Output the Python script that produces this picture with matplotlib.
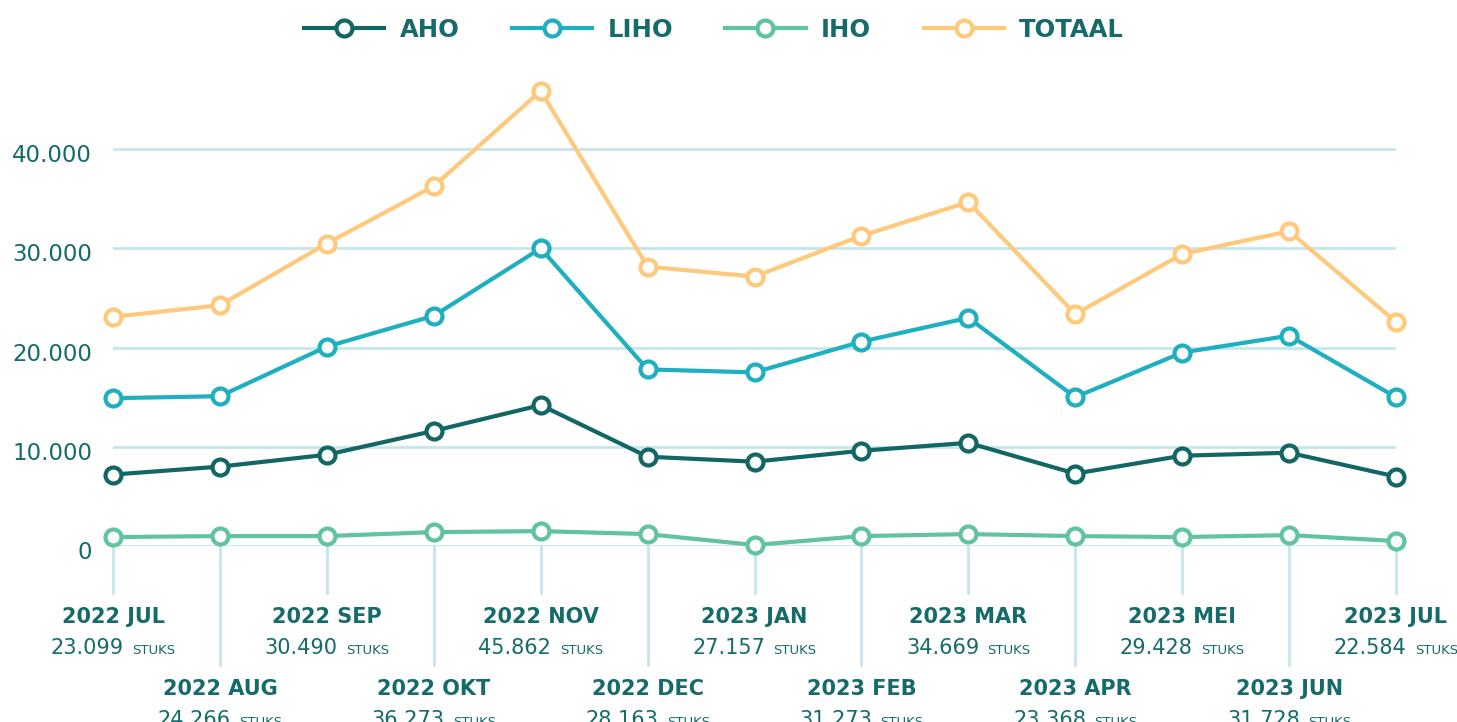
import matplotlib
matplotlib.use('Agg')
import matplotlib.pyplot as plt
import matplotlib.transforms as mtransforms
from matplotlib.offsetbox import TextArea, HPacker, AnnotationBbox

# data
months = ['2022 JUL', '2022 AUG', '2022 SEP', '2022 OKT', '2022 NOV', '2022 DEC',
          '2023 JAN', '2023 FEB', '2023 MAR', '2023 APR', '2023 MEI', '2023 JUN', '2023 JUL']
aho = [7200, 8000, 9200, 11600, 14200, 9000, 8500, 9600, 10400, 7300, 9100, 9400, 7000]
liho = [14900, 15100, 20100, 23200, 30000, 17800, 17500, 20600, 23000, 15000, 19500, 21200, 15000]
iho = [900, 1000, 1000, 1400, 1500, 1200, 100, 1000, 1200, 1000, 900, 1100, 500]
totaal = [23099, 24266, 30490, 36273, 45862, 28163, 27157, 31273, 34669, 23368, 29428, 31728, 22584]
yticks = [0, 10000, 20000, 30000, 40000]

TEXT = '#146b69'
GRID = '#c4e7ee'
colors = {'AHO': '#126764', 'LIHO': '#1eafc0', 'IHO': '#62c3a0', 'TOTAAL': '#ffc97c'}

W, H = 1457, 722
fig = plt.figure(figsize=(W / 100, H / 100), dpi=100)
ax = fig.add_axes([113 / W, 176 / H, (1396 - 113) / W, 476.2 / H])

x = list(range(len(months)))
series = [('AHO', aho), ('LIHO', liho), ('IHO', iho), ('TOTAAL', totaal)]
for name, vals in series:
    ax.plot(x, vals, color=colors[name], lw=3, marker='o', ms=11.5,
            mfc='white', mec=colors[name], mew=3, label=name, clip_on=False, zorder=3)

ax.set_xlim(0, len(months) - 1)
ax.set_ylim(0, 48000)
ax.set_yticks(yticks)
ax.set_yticklabels([f'{v:,}'.replace(',', '.') for v in yticks])
ax.tick_params(axis='y', length=0, pad=15, labelsize=16.5, labelcolor=TEXT)
# labels sit a little below their grid lines in the reference
for lab in ax.get_yticklabels():
    lab.set_transform(lab.get_transform() + mtransforms.ScaledTranslation(0, -4 / 100, fig.dpi_scale_trans))
ax.set_xticks([])
for v in yticks:
    ax.axhline(v, color=GRID, lw=2, zorder=1)
for s in ax.spines.values():
    s.set_visible(False)

# month labels below the axis, alternating rows
trans = mtransforms.blended_transform_factory(ax.transData, fig.transFigure)
for i, (m, t) in enumerate(zip(months, totaal)):
    low = i % 2 == 1
    y_end = (722 - 665) / H if low else (722 - 593) / H
    ax.plot([i, i], [176 / H, y_end], color=GRID, lw=2, transform=trans, clip_on=False, zorder=0)
    y_m = 33 / H if low else 105 / H
    y_v = 2 / H if low else 74 / H
    ax.text(i, y_m, m, transform=trans, ha='center', va='center',
            fontsize=15, fontweight='bold', color=TEXT)
    num = TextArea(f'{t:,}'.replace(',', '.'), textprops=dict(fontsize=15, color=TEXT))
    unit = TextArea('STUKS', textprops=dict(fontsize=9.5, color=TEXT))
    box = HPacker(children=[num, unit], align='baseline', pad=0, sep=6)
    ab = AnnotationBbox(box, (i, y_v), xycoords=trans, box_alignment=(0.5, 0.5),
                        frameon=False, pad=0, annotation_clip=False)
    ax.add_artist(ab)

leg = fig.legend(loc='center', bbox_to_anchor=(714 / W, 692 / H), ncol=4, frameon=False,
                 prop={'size': 17.5, 'weight': 'bold'}, handlelength=3.3,
                 handletextpad=0.64, columnspacing=2.15)
for t in leg.get_texts():
    t.set_color(TEXT)

fig.savefig('out.png', dpi=100)
